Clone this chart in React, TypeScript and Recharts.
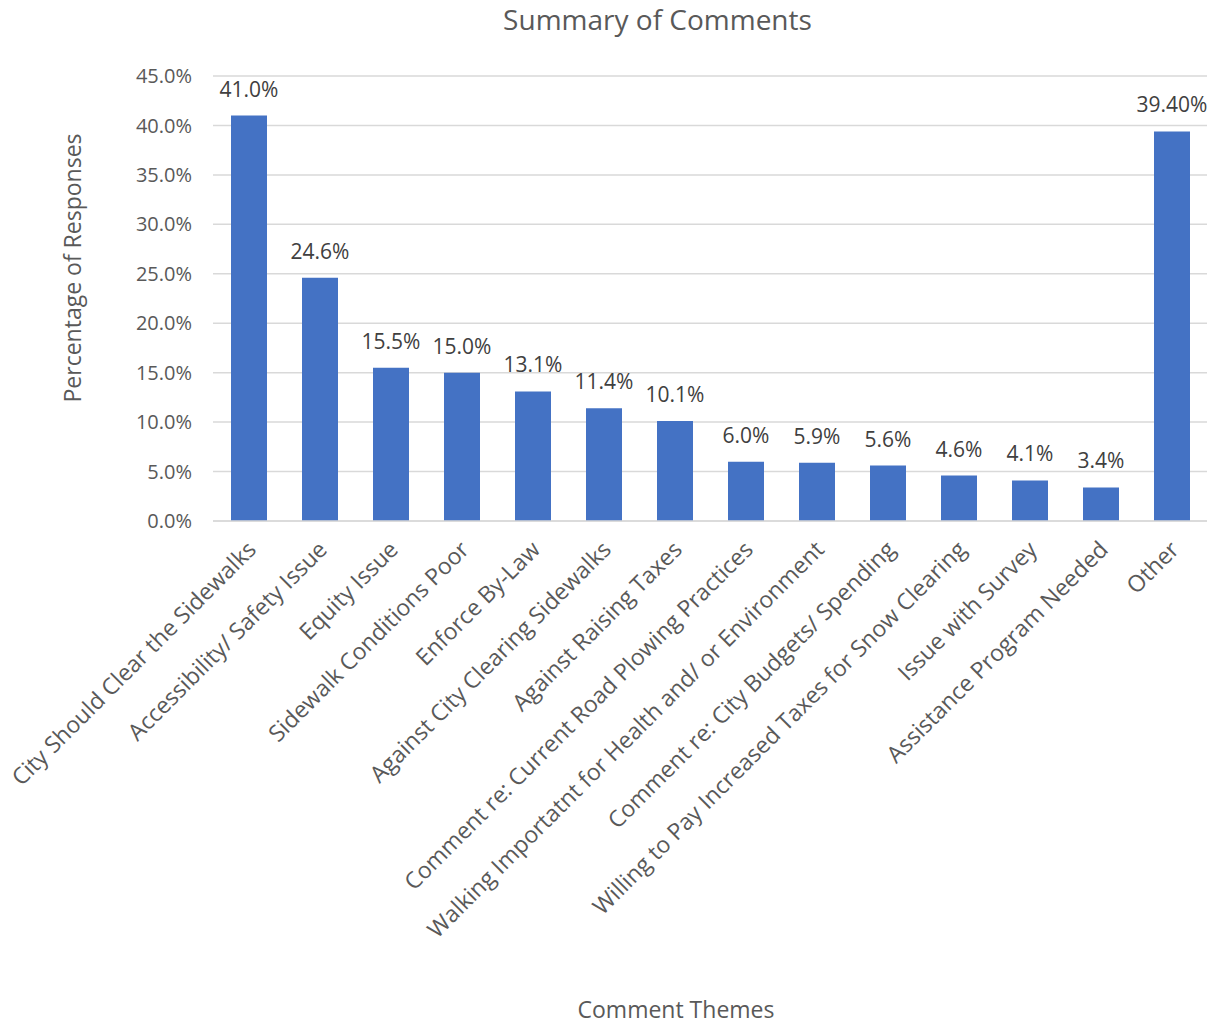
import { BarChart, Bar, XAxis, YAxis, CartesianGrid, LabelList, Label } from "recharts";

const themes = [
  "City Should Clear the Sidewalks",
  "Accessibility/ Safety Issue",
  "Equity Issue",
  "Sidewalk Conditions Poor",
  "Enforce By-Law",
  "Against City Clearing Sidewalks",
  "Against Raising Taxes",
  "Comment re: Current Road Plowing Practices",
  "Walking Importatnt for Health and/ or Environment",
  "Comment re: City Budgets/ Spending",
  "Willing to Pay Increased Taxes for Snow Clearing",
  "Issue with Survey",
  "Assistance Program Needed",
  "Other",
];
const percents = [41.0, 24.6, 15.5, 15.0, 13.1, 11.4, 10.1, 6.0, 5.9, 5.6, 4.6, 4.1, 3.4, 39.4];
const valueLabels = [
  "41.0%", "24.6%", "15.5%", "15.0%", "13.1%", "11.4%", "10.1%",
  "6.0%", "5.9%", "5.6%", "4.6%", "4.1%", "3.4%", "39.40%",
];
const yTicks = [0, 5, 10, 15, 20, 25, 30, 35, 40, 45];

const data = themes.map((name, i) => ({ name, value: percents[i], label: valueLabels[i] }));

const FONT = "'Open Sans', sans-serif";

const ThemeTick = (props: any) => {
  const { x, y, payload } = props;
  const tx = x + 9;
  const ty = y + 22;
  return (
    <text
      x={tx}
      y={ty}
      transform={`rotate(-45, ${tx}, ${ty})`}
      textAnchor="end"
      fill="#595959"
      fontSize={23}
      fontFamily={FONT}
    >
      {payload.value}
    </text>
  );
};

export default function App() {
  return (
    <div style={{ position: "absolute", left: 0, top: 0, width: 1215, height: 1024, background: "#fff", fontFamily: FONT }}>
      <div
        style={{
          position: "absolute",
          top: 0,
          left: 0,
          width: 1215,
          textAlign: "center",
          fontSize: 28,
          color: "#595959",
          paddingLeft: 100,
          boxSizing: "border-box",
        }}
      >
        Summary of Comments
      </div>
      <BarChart
        width={1215}
        height={1024}
        data={data}
        margin={{ top: 76, right: 8, left: 0, bottom: 0 }}
        barSize={36}
      >
        <CartesianGrid vertical={false} stroke="#d9d9d9" strokeWidth={1.5} />
        <XAxis
          dataKey="name"
          interval={0}
          height={503}
          tick={<ThemeTick />}
          tickLine={false}
          axisLine={{ stroke: "#d9d9d9", strokeWidth: 1.5 }}
        >
          <Label
            content={() => (
              <text x={676} y={1018} textAnchor="middle" fill="#595959" fontSize={23} fontFamily={FONT}>
                Comment Themes
              </text>
            )}
          />
        </XAxis>
        <YAxis
          width={213}
          domain={[0, 45]}
          ticks={yTicks}
          tickFormatter={(v: number) => `${v.toFixed(1)}%`}
          tick={{ fill: "#595959", fontSize: 20, fontFamily: FONT }}
          tickLine={false}
          axisLine={false}
          tickMargin={15}
        >
          <Label
            content={() => (
              <text
                x={81}
                y={268}
                transform="rotate(-90, 81, 268)"
                textAnchor="middle"
                fill="#595959"
                fontSize={23}
                fontFamily={FONT}
              >
                Percentage of Responses
              </text>
            )}
          />
        </YAxis>
        <Bar dataKey="value" fill="#4472C4" isAnimationActive={false}>
          <LabelList dataKey="label" position="top" offset={19} fill="#404040" fontSize={21} fontFamily={FONT} />
        </Bar>
      </BarChart>
    </div>
  );
}
